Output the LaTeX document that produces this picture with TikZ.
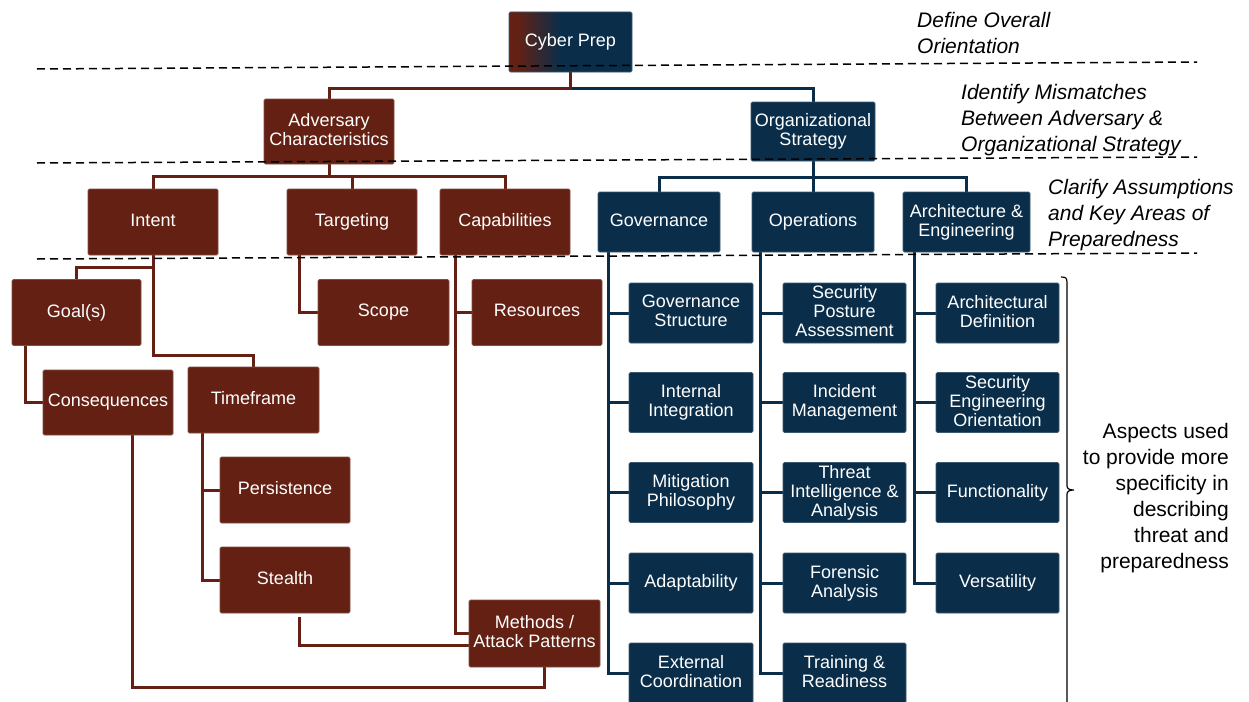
\documentclass[tikz,border=0pt]{standalone}
\usepackage{fontspec}
\setmainfont{Liberation Sans}
\usetikzlibrary{calc,backgrounds}

\definecolor{rust}{RGB}{100,33,19}
\definecolor{navy}{RGB}{10,46,74}
% the node box maps onto 25bp--75bp of the shading
\pgfdeclarehorizontalshading{prepshade}{100bp}{color(0bp)=(rust); color(28bp)=(rust); color(46bp)=(navy); color(100bp)=(navy)}

\tikzset{
  box/.style={rectangle, rounded corners=1.5, text=white, align=center,
    inner sep=2, line width=0.8, font=\fontsize{18}{19}\selectfont,
    execute at begin node=\vphantom{Ag}, execute at end node=\vphantom{g}},
  rbox/.style={box, fill=rust, draw=rust!80!white, minimum width=130, minimum height=66},
  nbox/.style={box, fill=navy, draw=navy!80!white, minimum width=123, minimum height=60},
  rline/.style={draw=rust, line width=3},
  nline/.style={draw=navy, line width=3},
  level/.style={black, line width=1.5, dash pattern=on 8 off 5},
  note/.style={font=\fontsize{21}{26}\selectfont\itshape, align=left, anchor=west, inner sep=0},
}

\begin{document}
\begin{tikzpicture}[x=1pt, y=-1pt]
\useasboundingbox (0,0) rectangle (1249,701);

% root
\node[box, shading=prepshade, draw=navy!80!white, minimum width=123, minimum height=60] (prep) at (570.5,42) {Cyber Prep};

% second level
\node[rbox, minimum height=65] (adv) at (329,131.5) {Adversary\\Characteristics};
\node[nbox, minimum width=124, minimum height=59] (org) at (813,131.5) {Organizational\\Strategy};

% third level, adversary side
\node[rbox] (intent) at (153,222) {Intent};
\node[rbox] (targ) at (352,222) {Targeting};
\node[rbox] (capab) at (505,222) {Capabilities};

% third level, organization side
\node[nbox, minimum width=122] (gov) at (659,222) {Governance};
\node[nbox, minimum width=122] (ops) at (813,222) {Operations};
\node[nbox, minimum width=127] (arch) at (966.5,222) {Architecture \&\\Engineering};

% adversary details
\node[rbox, minimum width=129] (goal) at (76.5,312.5) {Goal(s)};
\node[rbox, minimum height=65] (conseq) at (108,402.5) {Consequences};
\node[rbox, minimum width=131] (timef) at (253.5,400) {Timeframe};
\node[rbox] (persist) at (285,490) {Persistence};
\node[rbox] (stealth) at (285,580) {Stealth};
\node[rbox, minimum width=131] (scope) at (383.5,312.5) {Scope};
\node[rbox] (res) at (537,312.5) {Resources};
\node[rbox, minimum width=131, minimum height=67] (meth) at (534.5,633.5) {Methods /\\Attack Patterns};

% governance aspects
\node[nbox, minimum width=124] (gs) at (691,313)   {Governance\\Structure};
\node[nbox, minimum width=124] (ii) at (691,402.5) {Internal\\Integration};
\node[nbox, minimum width=124] (mp) at (691,492.5) {Mitigation\\Philosophy};
\node[nbox, minimum width=124] (ad) at (691,583)   {Adaptability};
\node[nbox, minimum width=124] (ec) at (691,673)   {External\\Coordination};

% operations aspects
\node[nbox] (spa) at (844.5,313)   {Security\\Posture\\Assessment};
\node[nbox] (im)  at (844.5,402.5) {Incident\\Management};
\node[nbox] (tia) at (844.5,492.5) {Threat\\Intelligence \&\\Analysis};
\node[nbox] (fa)  at (844.5,583)   {Forensic\\Analysis};
\node[nbox] (tr)  at (844.5,673)   {Training \&\\Readiness};

% architecture aspects
\node[nbox] (adef) at (997.5,313)   {Architectural\\Definition};
\node[nbox] (seo)  at (997.5,402.5) {Security\\Engineering\\Orientation};
\node[nbox] (fun)  at (997.5,492.5) {Functionality};
\node[nbox] (ver)  at (997.5,583)   {Versatility};

% connectors
\begin{scope}[on background layer]
  \draw[nline] (prep.south) -- ++(0,16) -| (org.north);
  \draw[rline] (prep.south) -- ++(0,16) -| (adv.north);

  \draw[rline] (adv.south) -- ++(0,13);
  \draw[rline] (intent.north) -- ++(0,-12) -| (capab.north);
  \draw[rline] (targ.north) -- ++(0,-12);

  \draw[nline] (org.south) -- (ops.north);
  \draw[nline] (gov.north) -- ++(0,-14) -| (arch.north);

  \draw[rline] (intent.south) -- ++(0,12) -| (goal.north);
  \draw[rline] (intent.south) -- ++(0,100) -| (timef.north);
  \draw[rline] (goal.south west) ++(14,0) |- (conseq.west);
  \draw[rline] (timef.south west) ++(15,0) |- (persist.west);
  \draw[rline] (timef.south west) ++(15,0) |- (stealth.west);
  \draw[rline] (targ.south west) ++(13,0) |- (scope.west);
  \draw[rline] (capab.south west) ++(16,0) |- (res.west);
  \draw[rline] (capab.south west) ++(16,0) |- (meth.west);
  \draw[rline] (stealth.south west) ++(80,4) |- ($(meth.south west)+(0,-22)$);
  \draw[rline] (conseq.south west) ++(90,0) -- ++(0,252) -| ($(meth.south west)+(76,0)$);

  \foreach \n in {gs,ii,mp,ad,ec}
    \draw[nline] (gov.south west) ++(11,0) |- (\n.west);
  \foreach \n in {spa,im,tia,fa,tr}
    \draw[nline] (ops.south west) ++(9,0) |- (\n.west);
  \foreach \n in {adef,seo,fun,ver}
    \draw[nline] (arch.south west) ++(12,0) |- (\n.west);
\end{scope}

% level separators
\draw[level] (37,69) -- (1197,62);
\draw[level] (37,163) -- (1197,157);
\draw[level] (37,259) -- (1197,253);

% level notes
\node[note] (n1) at (917,33) {Define Overall\\Orientation};
\node[note] (n2) at (961,120) {Identify Mismatches\\Between Adversary \&\\Organizational Strategy};
\node[note] (n3) at (1048,215) {Clarify Assumptions\\and Key Areas of\\Preparedness};

% bracket around the aspects
\draw[line width=1.2] (1061,277) .. controls (1066,277) and (1067,278) .. (1067,283)
  -- (1067,486) .. controls (1067,489) and (1070,490) .. (1074,490)
  .. controls (1070,490) and (1067,491) .. (1067,494) -- (1067,706);

\node[font=\fontsize{21}{26}\selectfont, align=right, anchor=east, inner sep=0] (aspects) at (1229,498.5)
  {Aspects used\\to provide more\\specificity in\\describing\\threat and\\preparedness};
\end{tikzpicture}
\end{document}
